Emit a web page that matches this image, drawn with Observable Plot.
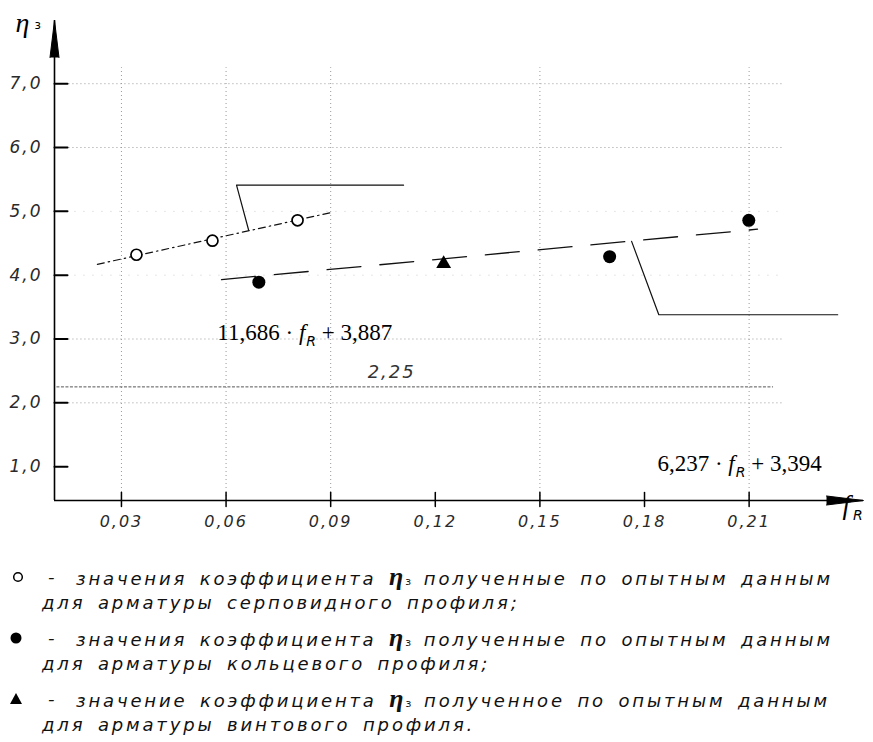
<!DOCTYPE html>
<html><head><meta charset="utf-8">
<script src="https://cdn.jsdelivr.net/npm/d3@7"></script>
<script src="https://cdn.jsdelivr.net/npm/@observablehq/plot@0.6"></script>
<style>
body{margin:0;background:#fff;}
#chart svg{display:block}
#legend{font-family:"DejaVu Sans";font-style:italic;font-size:18px;letter-spacing:2.85px;word-spacing:4px;color:#111;margin-top:19px;}
.entry{margin-bottom:9px}
.l1,.l2{height:26px;line-height:26px;position:relative;white-space:nowrap}
.l1 .sym{position:absolute;left:10px;top:5px;width:16px;height:16px}
.l1 .dash{position:absolute;left:48px;}
.l1 .txt{position:absolute;left:76px;}
.l2{padding-left:42px}
.eta{font-family:"Liberation Serif";font-weight:bold;font-size:26px;letter-spacing:0;}
.sub{font-size:11px;font-style:normal;letter-spacing:0;margin-left:2px}
</style>
</head><body>
<div id="chart"></div>
<div id="legend"></div>
<script>
// ---- data ----
const openX = [0.0343, 0.0561, 0.0805];      // серповидный профиль (open circles)
const openY = [4.32, 4.54, 4.86];
const ringX = [0.0694, 0.1700, 0.2099];      // кольцевой профиль (filled circles)
const ringY = [3.89, 4.29, 4.86];
const screwX = [0.1224];                     // винтовой профиль (triangle)
const screwY = [4.18];
const openFitX = [0.0231, 0.0900];           // dash-dot regression line
const openFitY = [4.17, 4.98];
const ringFitX = [0.0587, 0.2124];           // dashed regression line
const ringFitY = [3.93, 4.72];
const leader1X = [0.0665, 0.0630, 0.1109];
const leader1Y = [4.70, 5.41, 5.41];
const leader2X = [0.1763, 0.1841, 0.2354];
const leader2Y = [4.53, 3.38, 3.38];
const xTicks = [0.03, 0.06, 0.09, 0.12, 0.15, 0.18, 0.21];
const xTickLabels = ["0,03", "0,06", "0,09", "0,12", "0,15", "0,18", "0,21"];
const yTicks = [1, 2, 3, 4, 5, 6, 7];
const yTickLabels = ["1,0", "2,0", "3,0", "4,0", "5,0", "6,0", "7,0"];
const xGrid = [0.03, 0.06, 0.09, 0.15, 0.21];
const yGrid = [2, 3, 6, 7];
const yGridFaint = [4, 5];
const limitValue = [2.25];
const limitLabel = ["2,25"];
const eq1 = ["11,686 · f_R + 3,887"];
const eq2 = ["6,237 · f_R + 3,394"];
const yTitle = ["η_з"];
const xTitle = ["f_R"];

const W = 873, H = 545, ML = 54, MR = 10, MT = 20, MB = 45;
const X0 = 0.0108, X1 = 0.2428, Y0 = 0.47, Y1 = 7.99;
// data units per pixel, used for tick-mark lengths
const kx = (X1 - X0) / (W - ML - MR);
const ky = (Y1 - Y0) / (H - MT - MB);
const pts = (xs, ys) => xs.map((x, i) => ({x, y: ys[i]}));
const yTickSeg = yTicks.flatMap(t => [{x: X0, y: t, k: t}, {x: X0 + 13 * kx, y: t, k: t}]);
const xTickSeg = xTicks.flatMap(t => [{x: t, y: Y0 - 6 * ky, k: t}, {x: t, y: Y0 + 8 * ky, k: t}]);

const chart = Plot.plot({
  width: W, height: H,
  marginLeft: ML, marginRight: MR, marginTop: MT, marginBottom: MB,
  x: {domain: [X0, X1], axis: null},
  y: {domain: [Y0, Y1], axis: null},
  style: {fontFamily: "DejaVu Sans", color: "#111", background: "#fff", overflow: "visible"},
  marks: [
    // grid
    Plot.ruleX(xGrid, {y1: Y0, y2: 7.25, stroke: "#999", strokeDasharray: "1,3", strokeWidth: 1}),
    Plot.ruleY(yGrid, {x1: 0.0115, x2: 0.22, stroke: "#999", strokeDasharray: "1,3", strokeWidth: 1}),
    Plot.ruleY(yGridFaint, {x1: 0.0115, x2: 0.22, stroke: "#ccc", strokeDasharray: "1,8", strokeWidth: 1}),
    Plot.ruleY(limitValue, {x1: 0.0115, x2: 0.217, stroke: "#555", strokeDasharray: "3,1.5", strokeWidth: 1}),
    // regression lines and leaders
    Plot.line(pts(openFitX, openFitY), {x: "x", y: "y", stroke: "#111", strokeWidth: 1.2, strokeDasharray: "7,4,1.5,4"}),
    Plot.line(pts(ringFitX, ringFitY), {x: "x", y: "y", stroke: "#111", strokeWidth: 1.3, strokeDasharray: "34,19"}),
    Plot.line(pts(leader1X, leader1Y), {x: "x", y: "y", stroke: "#111", strokeWidth: 1.2}),
    Plot.line(pts(leader2X, leader2Y), {x: "x", y: "y", stroke: "#111", strokeWidth: 1.2}),
    // axes with arrow heads
    Plot.ruleX([X0], {y1: Y0, y2: Y1, stroke: "#000", strokeWidth: 1.6}),
    Plot.ruleY([Y0], {x1: X0, x2: X1, stroke: "#000", strokeWidth: 1.6}),
    Plot.vector([0], {frameAnchor: "top-left", rotate: 0, length: 37, anchor: "end", shape: "spike", r: 4.5, fill: "#000", stroke: "#000", strokeWidth: 1}),
    Plot.vector([0], {frameAnchor: "bottom-right", rotate: 90, length: 37, anchor: "end", shape: "spike", r: 4.5, fill: "#000", stroke: "#000", strokeWidth: 1}),
    // tick marks
    Plot.line(yTickSeg, {x: "x", y: "y", z: "k", stroke: "#000", strokeWidth: 2}),
    Plot.line(xTickSeg, {x: "x", y: "y", z: "k", stroke: "#000", strokeWidth: 1.5}),
    // tick labels
    Plot.text(yTicks, {x: X0, y: d => d, text: d => yTickLabels[yTicks.indexOf(d)], dx: -12, textAnchor: "end", fontSize: 17, fontStyle: "italic", fill: "#2a2a2a"}),
    Plot.text(xTicks, {x: d => d, y: Y0, text: d => xTickLabels[xTicks.indexOf(d)], dy: 21, fontSize: 16, fontStyle: "italic", fill: "#2a2a2a"}),
    // points
    Plot.dot(pts(openX, openY), {x: "x", y: "y", r: 5.5, stroke: "#000", strokeWidth: 1.7, fill: "#fff"}),
    Plot.dot(pts(ringX, ringY), {x: "x", y: "y", r: 6.5, fill: "#000"}),
    Plot.dot(pts(screwX, screwY), {x: "x", y: "y", r: 5.5, symbol: "triangle", fill: "#000"}),
    // annotations
    Plot.text(limitLabel, {x: 0.1006, y: 2.48, textAnchor: "start", fontSize: 18, fontStyle: "italic", fill: "#333"}),
    Plot.text(eq1, {x: 0.0575, y: 3.10, textAnchor: "start", fontFamily: "Liberation Serif", fontSize: 23, fill: "#000"}),
    Plot.text(eq2, {x: 0.1837, y: 1.05, textAnchor: "start", fontFamily: "Liberation Serif", fontSize: 23, fill: "#000"}),
    Plot.text(yTitle, {frameAnchor: "top-left", dx: -39, dy: -8, textAnchor: "start", fontFamily: "Liberation Serif", fontSize: 28, fontStyle: "italic", fill: "#000"}),
    Plot.text(xTitle, {frameAnchor: "bottom-right", dx: -21, dy: 13, textAnchor: "start", fontFamily: "Liberation Serif", fontSize: 27, fontStyle: "italic", fill: "#000"})
  ]
});

// turn "a_b" markers into base + subscript tspans
const NS = "http://www.w3.org/2000/svg";
chart.querySelectorAll("text").forEach(t => {
  const s = t.textContent;
  const i = s.indexOf("_");
  if (i < 1) return;
  const pre = s.slice(0, i - 1), base = s[i - 1], sub = s[i + 1], post = s.slice(i + 2);
  t.textContent = "";
  t.style.whiteSpace = "pre";
  if (pre) t.appendChild(document.createTextNode(pre));
  const b = document.createElementNS(NS, "tspan");
  b.textContent = base;
  b.setAttribute("font-style", "italic");
  t.appendChild(b);
  const sb = document.createElementNS(NS, "tspan");
  sb.textContent = sub;
  sb.setAttribute("font-family", "DejaVu Sans");
  if (base === "η") {
    sb.setAttribute("font-size", "12"); sb.setAttribute("font-style", "normal");
    sb.setAttribute("dx", "5"); sb.setAttribute("dy", "-3");
  } else {
    sb.setAttribute("font-size", "14"); sb.setAttribute("font-style", "italic");
    sb.setAttribute("dx", pre ? "1" : "3"); sb.setAttribute("dy", "6");
  }
  t.appendChild(sb);
  if (post) {
    const p = document.createElementNS(NS, "tspan");
    p.textContent = post; p.setAttribute("dy", "-6");
    t.appendChild(p);
  }
});
chart.querySelectorAll('g[aria-label="text"] text').forEach(t => {
  if (/^\d,\d+$/.test(t.textContent)) t.style.letterSpacing = "2px";
});
document.getElementById("chart").appendChild(chart);

// legend
const legendItems = [
  {sym: "open", l1: ["значения коэффициента", "полученные по опытным данным"], l2: "для арматуры серповидного профиля;"},
  {sym: "filled", l1: ["значения коэффициента", "полученные по опытным данным"], l2: "для арматуры кольцевого профиля;"},
  {sym: "tri", l1: ["значение коэффициента", "полученное по опытным данным"], l2: "для арматуры винтового профиля."}
];
const symSvg = {
  open: '<svg class="sym" viewBox="0 0 16 16"><circle cx="8" cy="8" r="4.3" fill="none" stroke="#000" stroke-width="1.5"/></svg>',
  filled: '<svg class="sym" viewBox="0 0 16 16"><circle cx="6" cy="8" r="5.5" fill="#000"/></svg>',
  tri: '<svg class="sym" viewBox="0 0 16 16"><path d="M6,2L12,13L0,13Z" fill="#000"/></svg>'
};
document.getElementById("legend").innerHTML = legendItems.map(it =>
  `<div class="entry"><div class="l1">${symSvg[it.sym]}<span class="dash">-</span><span class="txt">${it.l1[0]} <span class="eta">η</span><span class="sub">з</span> ${it.l1[1]}</span></div><div class="l2">${it.l2}</div></div>`
).join("");
</script>
</body></html>
